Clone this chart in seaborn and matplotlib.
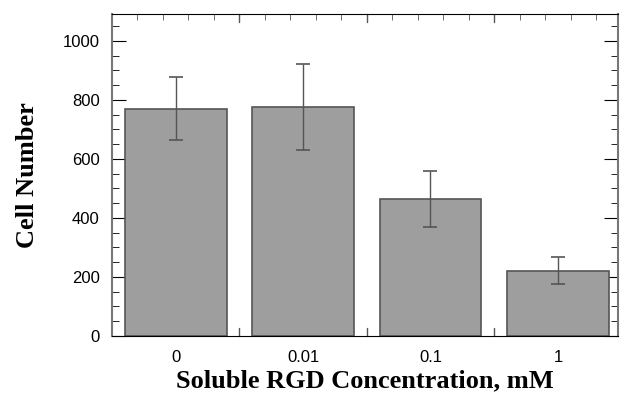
import numpy as np
import pandas as pd
import matplotlib
matplotlib.use("Agg")
import matplotlib.pyplot as plt
from matplotlib.ticker import FixedLocator
import seaborn as sns

# values
concentrations = ["0", "0.01", "0.1", "1"]
cell_number = [771, 775, 466, 219]
err_low = [664, 630, 369, 176]
err_high = [878, 922, 559, 268]

df = pd.DataFrame({"conc": concentrations, "cells": cell_number})

sns.set_style("ticks")
plt.rcParams["font.family"] = ["Liberation Sans", "DejaVu Sans"]
plt.rcParams["text.color"] = "black"
plt.rcParams["axes.labelcolor"] = "black"
plt.rcParams["xtick.labelcolor"] = "black"
plt.rcParams["ytick.labelcolor"] = "black"

fig = plt.figure(figsize=(6.24, 4.05), dpi=100)
ax = fig.add_axes([0.1795, 0.1704, 0.8105, 0.794])

sns.barplot(data=df, x="conc", y="cells", color="#9e9e9e", saturation=1,
            width=0.8, edgecolor="#555555", linewidth=1.2, ax=ax)

means = np.array(cell_number)
yerr = [means - np.array(err_low), np.array(err_high) - means]
ax.errorbar(range(len(concentrations)), means, yerr=yerr, fmt="none",
            ecolor="#555555", elinewidth=1, capsize=5, capthick=1.2)

ax.set_xlim(-0.5, 3.47)
ax.set_ylim(0, 1090)
ax.set_yticks([0, 200, 400, 600, 800, 1000])
ax.yaxis.set_minor_locator(FixedLocator(np.arange(50, 1090, 50)))

minor_x = [k + d for k in range(4) for d in (-0.3, -0.1, 0.1, 0.3)]
ax.xaxis.set_minor_locator(FixedLocator(minor_x))
ax.tick_params(axis="x", which="major", length=0, pad=10, labelsize=12)
ax.tick_params(axis="x", which="minor", length=4, direction="in",
               top=True, bottom=True, color="#555555")
ax.tick_params(axis="y", which="major", length=10, direction="in",
               left=True, right=True, pad=9, labelsize=12, color="black")
ax.tick_params(axis="y", which="minor", length=5, direction="in",
               left=True, right=True, color="black")
# longer separator ticks between the bars
for xb in (0.5, 1.5, 2.5):
    ax.plot([xb, xb], [0, 0.025], transform=ax.get_xaxis_transform(),
            color="#555555", lw=1, clip_on=False)
    ax.plot([xb, xb], [0.975, 1], transform=ax.get_xaxis_transform(),
            color="#555555", lw=1, clip_on=False)

for side in ["top", "bottom"]:
    ax.spines[side].set_color("black")
for side in ["left", "right"]:
    ax.spines[side].set_color("#777777")
    ax.spines[side].set_linewidth(1.5)

label_font = dict(family="Liberation Serif", weight="bold", size=19)
ax.set_xlabel("Soluble RGD Concentration, mM", labelpad=3, **label_font)
ax.set_ylabel("Cell Number", labelpad=17, **label_font)

fig.savefig("out.png", dpi=100)
